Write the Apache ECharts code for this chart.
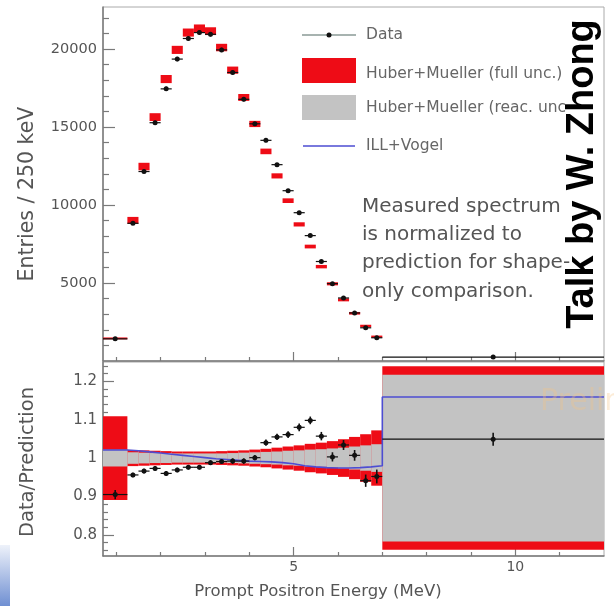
<!DOCTYPE html>
<html><head><meta charset="utf-8">
<script src="https://cdn.jsdelivr.net/npm/echarts@6/dist/echarts.min.js"></script>
<style>html,body{margin:0;padding:0;background:#fff}#c{width:614px;height:606px}</style>
</head><body><div id="c"></div>
<script>
// Bin edges (MeV)
const binLo = [0.7,1.25,1.5,1.75,2.0,2.25,2.5,2.75,3.0,3.25,3.5,3.75,4.0,4.25,4.5,4.75,5.0,5.25,5.5,5.75,6.0,6.25,6.5,6.75,7.0];
const binHi = [1.25,1.5,1.75,2.0,2.25,2.5,2.75,3.0,3.25,3.5,3.75,4.0,4.25,4.5,4.75,5.0,5.25,5.5,5.75,6.0,6.25,6.5,6.75,7.0,12.0];
// Top panel: entries / 250 keV
const dataTop = [1420,8830,12150,15280,17450,19360,20680,21060,20950,19950,18500,16780,15210,14150,12590,10920,9510,8040,6380,4960,4040,3080,2130,1490,250];
const dataErrTop = [30,95,110,125,130,140,145,145,145,140,135,130,123,119,112,104,97,90,80,70,64,55,46,39,20];
const predTop = [1450,9020,12470,15640,18080,19950,21060,21320,21150,20100,18650,16900,15200,13440,11870,10280,8760,7340,6050,4950,3920,3060,2250,1560,null];
const predTopHalf = [60,220,240,250,260,260,260,260,250,240,230,220,200,180,165,150,135,120,110,100,95,85,75,70,null];
// Bottom panel: data / prediction
const ratio = [0.905,0.956,0.966,0.973,0.960,0.969,0.976,0.976,0.988,0.991,0.992,0.992,1.001,1.040,1.055,1.061,1.080,1.098,1.057,1.003,1.034,1.007,0.941,0.952,1.049];
const ratioErr = [0.012,0.006,0.006,0.006,0.006,0.006,0.006,0.006,0.006,0.006,0.007,0.007,0.007,0.008,0.008,0.009,0.010,0.010,0.011,0.012,0.013,0.014,0.016,0.018,0.017];
const fullUnc = [0.109,0.021,0.020,0.019,0.018,0.017,0.017,0.017,0.017,0.018,0.019,0.020,0.022,0.024,0.027,0.030,0.033,0.037,0.040,0.044,0.049,0.055,0.062,0.072,0.239];
const reacUnc = [0.022,0.015,0.014,0.013,0.013,0.012,0.012,0.012,0.012,0.012,0.013,0.014,0.015,0.016,0.017,0.019,0.020,0.022,0.023,0.025,0.027,0.030,0.033,0.036,0.217];
const illVogel = [1.021,1.019,1.016,1.013,1.010,1.007,1.004,1.001,0.998,0.996,0.994,0.992,0.991,0.990,0.988,0.985,0.980,0.977,0.975,0.974,0.974,0.975,0.977,0.980,1.159];
// Ticks
const xMajor = [5,10];
const xMinor = [1,2,3,4,6,7,8,9,11];
const yTopMajor = [5000,10000,15000,20000];
const yTopMinor = [1000,2000,3000,4000,6000,7000,8000,9000,11000,12000,13000,14000,16000,17000,18000,19000,21000,22000];
const yRatioMajor = [0.8,0.9,1.0,1.1,1.2];
const yRatioMinor = [0.76,0.78,0.82,0.84,0.86,0.88,0.92,0.94,0.96,0.98,1.02,1.04,1.06,1.08,1.12,1.14,1.16,1.18,1.22,1.24];

const RED = '#ee0c16', GRAY = '#c3c3c3', BLUE = '#4d4dd2', BLK = '#111';
const FONT = '"DejaVu Sans", sans-serif';

function boxRender(color) {
  return function (params, api) {
    const a = api.coord([api.value(0), api.value(3)]);
    const b = api.coord([api.value(1), api.value(2)]);
    return { type: 'rect', shape: { x: a[0], y: a[1], width: b[0] - a[0], height: b[1] - a[1] }, style: { fill: color } };
  };
}
function pointRender(r) {
  return function (params, api) {
    const lo = api.value(0), hi = api.value(1), v = api.value(2), e = api.value(3);
    const xm = (lo + hi) / 2;
    const pl = api.coord([lo, v]), ph = api.coord([hi, v]), pc = api.coord([xm, v]);
    const pt = api.coord([xm, v + e]), pb = api.coord([xm, v - e]);
    return { type: 'group', children: [
      { type: 'line', shape: { x1: pl[0], y1: pl[1], x2: ph[0], y2: ph[1] }, style: { stroke: BLK, lineWidth: 1.2 } },
      { type: 'line', shape: { x1: pt[0], y1: pt[1], x2: pb[0], y2: pb[1] }, style: { stroke: BLK, lineWidth: 1.6 } },
      { type: 'circle', shape: { cx: pc[0], cy: pc[1], r: r }, style: { fill: BLK } }
    ] };
  };
}

const idx = binLo.map((_, i) => i);
const predTopData = idx.filter(i => predTop[i] != null).map(i => [binLo[i], binHi[i], predTop[i] - predTopHalf[i], predTop[i] + predTopHalf[i]]);
const dataTopData = idx.map(i => [binLo[i], binHi[i], dataTop[i], dataErrTop[i]]);
const fullData = idx.map(i => [binLo[i], binHi[i], 1 - fullUnc[i], 1 + fullUnc[i]]);
const reacData = idx.map(i => [binLo[i], binHi[i], 1 - reacUnc[i], 1 + reacUnc[i]]);
const ratioData = idx.map(i => [binLo[i], binHi[i], ratio[i], ratioErr[i]]);
const illData = idx.map(i => [binLo[i], illVogel[i]]).concat([[binHi[binHi.length - 1], illVogel[illVogel.length - 1]]]);

const axisCol = '#7a7a7a';
function xAx(grid, major, labels) {
  return {
    type: 'value', gridIndex: grid, position: 'bottom', min: 0.7, max: 12,
    axisLine: { show: major, lineStyle: { color: axisCol, width: 1.5 } },
    axisTick: { show: true, inside: true, length: major ? 9 : 4, customValues: major ? xMajor : xMinor, lineStyle: { color: axisCol, width: 1.2 } },
    axisLabel: labels ? { show: true, customValues: xMajor, margin: 4, fontSize: 14, color: '#555', fontFamily: FONT } : { show: false },
    splitLine: { show: false }
  };
}
function yAx(grid, min, max, major, ticks, labels, fmt, len, fs) {
  return {
    type: 'value', gridIndex: grid, position: 'left', min: min, max: max,
    axisLine: { show: major, lineStyle: { color: axisCol, width: 1.5 } },
    axisTick: { show: true, inside: true, length: len, customValues: ticks, lineStyle: { color: axisCol, width: 1.2 } },
    axisLabel: labels ? { show: true, customValues: labels, margin: 6, fontSize: fs, color: '#555', fontFamily: FONT, formatter: fmt } : { show: false },
    splitLine: { show: false }
  };
}

const chart = echarts.init(document.getElementById('c'), null, { renderer: 'canvas' });
chart.setOption({
  animation: false,
  backgroundColor: '#fff',
  grid: [
    { left: 103, top: 7, width: 501, height: 354, show: true, borderColor: '#aaa', borderWidth: 1 },
    { left: 103, top: 362, width: 501, height: 194, show: true, borderColor: '#aaa', borderWidth: 1 }
  ],
  xAxis: [xAx(0, true, false), xAx(0, false, false), xAx(1, true, true), xAx(1, false, false)],
  yAxis: [
    yAx(0, 0, 22700, true, yTopMajor, yTopMajor, v => String(v), 12, 14.5),
    yAx(0, 0, 22700, false, yTopMinor, null, null, 6, 14),
    yAx(1, 0.745, 1.25, true, yRatioMajor, yRatioMajor, v => String(Math.round(v * 10) / 10), 11, 15),
    yAx(1, 0.745, 1.25, false, yRatioMinor, null, null, 5, 14)
  ],
  series: [
    { name: 'Huber+Mueller (full unc.)', type: 'custom', xAxisIndex: 0, yAxisIndex: 0, renderItem: boxRender(RED), data: predTopData, z: 2, silent: true },
    { name: 'Data', type: 'custom', xAxisIndex: 0, yAxisIndex: 0, renderItem: pointRender(2.5), data: dataTopData, z: 4, silent: true },
    { name: 'Huber+Mueller (full unc.) ratio', type: 'custom', xAxisIndex: 2, yAxisIndex: 2, renderItem: boxRender(RED), data: fullData, z: 2, clip: true, silent: true },
    { name: 'Huber+Mueller (reac. unc.)', type: 'custom', xAxisIndex: 2, yAxisIndex: 2, renderItem: boxRender(GRAY), data: reacData, z: 3, clip: true, silent: true },
    { name: 'ILL+Vogel', type: 'line', xAxisIndex: 2, yAxisIndex: 2, step: 'end', data: illData, symbol: 'none', lineStyle: { color: BLUE, width: 1.6 }, z: 4, silent: true },
    { name: 'Data ratio', type: 'custom', xAxisIndex: 2, yAxisIndex: 2, renderItem: pointRender(2.5), data: ratioData, z: 5, clip: true, silent: true }
  ],
  graphic: [
    { type: 'rect', z: 50, shape: { x: 0, y: 545, width: 10, height: 61 }, style: { fill: new echarts.graphic.LinearGradient(0, 0, 0, 1, [{ offset: 0, color: '#eef2fa' }, { offset: 1, color: '#6f8fd2' }]) } },
    // legend
    { type: 'line', z: 50, shape: { x1: 302, y1: 35, x2: 356, y2: 35 }, style: { stroke: '#8a9a96', lineWidth: 1.5 } },
    { type: 'circle', z: 51, shape: { cx: 329, cy: 35, r: 2.5 }, style: { fill: BLK } },
    { type: 'rect', z: 50, shape: { x: 302, y: 58, width: 54, height: 25 }, style: { fill: RED } },
    { type: 'rect', z: 50, shape: { x: 302, y: 95, width: 54, height: 25 }, style: { fill: GRAY } },
    { type: 'line', z: 50, shape: { x1: 303, y1: 146, x2: 355, y2: 146 }, style: { stroke: BLUE, lineWidth: 1.5 } },
    { type: 'text', z: 50, x: 366, y: 35, style: { text: 'Data', fontSize: 15.5, fontFamily: FONT, fill: '#666', verticalAlign: 'middle' } },
    { type: 'text', z: 50, x: 366, y: 74, style: { text: 'Huber+Mueller (full unc.)', fontSize: 15.5, fontFamily: FONT, fill: '#666', verticalAlign: 'middle' } },
    { type: 'text', z: 50, x: 366, y: 108, style: { text: 'Huber+Mueller (reac. unc', fontSize: 15.5, fontFamily: FONT, fill: '#666', verticalAlign: 'middle' } },
    { type: 'text', z: 50, x: 366, y: 146, style: { text: 'ILL+Vogel', fontSize: 15.5, fontFamily: FONT, fill: '#666', verticalAlign: 'middle' } },
    // annotation
    { type: 'text', z: 50, x: 362, y: 207, style: { text: 'Measured spectrum', fontSize: 20, fontFamily: FONT, fill: '#555', verticalAlign: 'middle' } },
    { type: 'text', z: 50, x: 362, y: 235, style: { text: 'is normalized to', fontSize: 20, fontFamily: FONT, fill: '#555', verticalAlign: 'middle' } },
    { type: 'text', z: 50, x: 362, y: 263, style: { text: 'prediction for shape-', fontSize: 20, fontFamily: FONT, fill: '#555', verticalAlign: 'middle' } },
    { type: 'text', z: 50, x: 362, y: 292, style: { text: 'only comparison.', fontSize: 20, fontFamily: FONT, fill: '#555', verticalAlign: 'middle' } },
    // axis titles
    { type: 'text', z: 50, x: 28, y: 194, rotation: Math.PI / 2, style: { text: 'Entries / 250 keV', fontSize: 20.5, fontFamily: FONT, fill: '#555', align: 'center', verticalAlign: 'middle' } },
    { type: 'text', z: 50, x: 28, y: 462, rotation: Math.PI / 2, style: { text: 'Data/Prediction', fontSize: 19.5, fontFamily: FONT, fill: '#555', align: 'center', verticalAlign: 'middle' } },
    { type: 'text', z: 50, x: 318, y: 592, style: { text: 'Prompt Positron Energy (MeV)', fontSize: 16.5, fontFamily: FONT, fill: '#555', align: 'center', verticalAlign: 'middle' } },
    // watermark
    { type: 'text', z: 49, x: 540, y: 402, style: { text: 'Preliminary', fontSize: 30, fontFamily: FONT, fill: 'rgba(245,195,130,0.32)', verticalAlign: 'middle' } },
    // overlay
    { type: 'text', z: 100, x: 583, y: 174, rotation: Math.PI / 2, style: { text: 'Talk by W. Zhong', fontSize: 38, fontWeight: 'bold', fontFamily: '"Liberation Sans", Arial, sans-serif', fill: '#000', align: 'center', verticalAlign: 'middle' } }
  ]
});
</script></body></html>
